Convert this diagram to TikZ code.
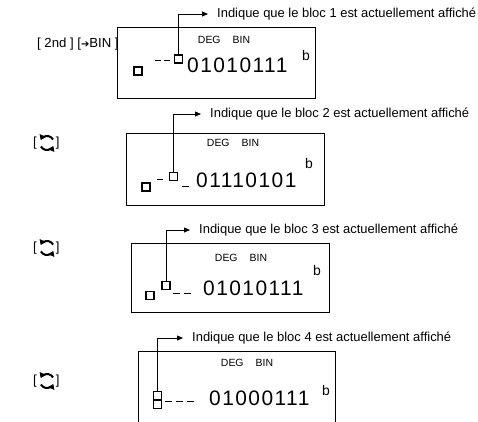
\documentclass[tikz,border=0pt]{standalone}
\usepackage{fontspec}
\setmainfont{Liberation Sans}
\newfontfamily\symfont{DejaVu Sans}
\usetikzlibrary{arrows.meta}
\begin{document}
\begin{tikzpicture}[x=1bp,y=-1bp,
  lcd/.style={draw, line width=0.9bp},
  seg/.style={draw, line width=1.4bp, minimum size=8bp, inner sep=0pt, outer sep=0pt},
  dashseg/.style={line width=1bp},
  lbl/.style={font=\fontsize{13}{15}\selectfont, anchor=west, inner sep=0pt},
  key/.style={font=\fontsize{13.2}{15}\selectfont, anchor=west, inner sep=0pt},
  mode/.style={font=\fontsize{10.5}{12}\selectfont, inner sep=0pt},
  digits/.style={font=\fontsize{21}{24}\selectfont\addfontfeature{LetterSpace=7}, anchor=base west, inner sep=0pt},
  unit/.style={font=\fontsize{14}{16}\selectfont, anchor=base west, inner sep=0pt},
  ptr/.style={line width=0.8bp, -{Triangle[length=6bp,width=5bp]}, shorten >=9bp},
  refresh/.pic={
    \draw[line width=2bp, -{Triangle[length=5bp,width=6.5bp]}] (-30:7) arc (-30:-155:7);
    \draw[line width=2bp, -{Triangle[length=5bp,width=6.5bp]}] (-210:7) arc (-210:-335:7);
  },
]
\useasboundingbox (0,0) rectangle (478,421);

% ---------- Row 1
\node[key] (k1) at (37,44) {[ 2nd ] [{\symfont\fontsize{10}{12}\selectfont ➔}BIN ]};
\draw[lcd] (117,27) rectangle (315,98);
\node[mode] (m1) at (224,40) {DEG\hspace{12bp}BIN};
\node[seg] (a1) at (138,71) {};
\draw[dashseg] (155,60) -- (161,60) (164,60) -- (170,60);
\node[seg] (b1) at (178.5,59) {};
\node[digits] (d1) at (187,72) {01010111};
\node[unit] (u1) at (302,60) {b};
\node[lbl] (l1) at (217,14) {Indique que le bloc 1 est actuellement affiché};
\draw[ptr] (b1.north) |- (l1.west);

% ---------- Row 2
\node[key] (k2) at (33,143) {[\hspace{19bp}]};
\pic at (47,143) {refresh};
\draw[lcd] (126,133) rectangle (324,205);
\node[mode] (m2) at (233,143) {DEG\hspace{12bp}BIN};
\node[seg] (a2) at (146,187) {};
\draw[dashseg] (157,179) -- (163,179);
\node[seg] (b2) at (173.5,176.5) {};
\draw[dashseg] (182,186) -- (189,186);
\node[digits] (d2) at (196,187) {01110101};
\node[unit] (u2) at (305,168) {b};
\node[lbl] (l2) at (210,114) {Indique que le bloc 2 est actuellement affiché};
\draw[ptr] (b2.north) |- (l2.west);

% ---------- Row 3
\node[key] (k3) at (33,248) {[\hspace{19bp}]};
\pic at (47,248) {refresh};
\draw[lcd] (131,243) rectangle (329,312);
\node[mode] (m3) at (241,258) {DEG\hspace{12bp}BIN};
\node[seg] (a3) at (150,295.5) {};
\node[seg] (b3) at (166,285.5) {};
\draw[dashseg] (173,293) -- (180,293) (184,293) -- (191,293);
\node[digits] (d3) at (203,295) {01010111};
\node[unit] (u3) at (313,275) {b};
\node[lbl] (l3) at (199,230) {Indique que le bloc 3 est actuellement affiché};
\draw[ptr] (b3.north) |- (l3.west);

% ---------- Row 4
\node[key] (k4) at (33,381) {[\hspace{19bp}]};
\pic at (47,381) {refresh};
\draw[lcd] (138,430) -- (138,351) -- (335,351) -- (335,430);
\node[mode] (m4) at (247,363) {DEG\hspace{12bp}BIN};
\node[seg] (b4) at (157.5,395.5) {};
\node[seg] (a4) at (157.5,404.5) {};
\draw[dashseg] (165,401) -- (172,401) (176,401) -- (183,401) (187,401) -- (194,401);
\node[digits] (d4) at (209,405) {01000111};
\node[unit] (u4) at (322,395) {b};
\node[lbl] (l4) at (192,338) {Indique que le bloc 4 est actuellement affiché};
\draw[ptr] (b4.north) |- (l4.west);
\end{tikzpicture}
\end{document}
